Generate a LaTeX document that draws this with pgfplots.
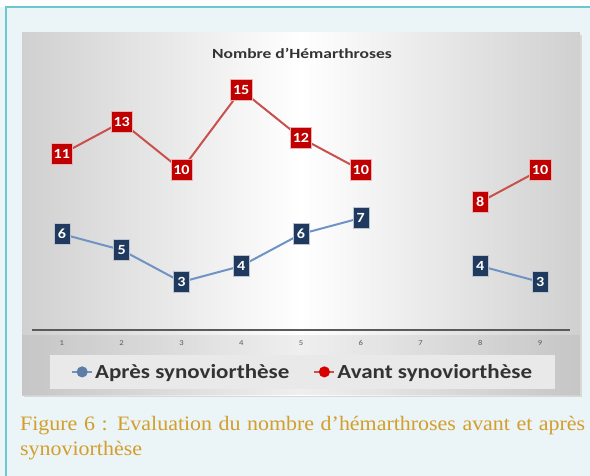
\documentclass[border=0pt]{standalone}
\usepackage{pgfplots}
\pgfplotsset{compat=1.18}
\usepackage{fontspec}
\setmainfont{Liberation Serif}
\newfontfamily\calfont{Carlito}
\newfontfamily\calwide[FakeStretch=1.15]{Carlito}
\newfontfamily\calwider[FakeStretch=1.25]{Carlito}
\newfontfamily\capfont[FakeStretch=1.07]{Liberation Serif}
\definecolor{bgc}{HTML}{EBF4F6}
\definecolor{tealb}{HTML}{6CC8CC}
\definecolor{edgegray}{HTML}{D0D0D0}
\definecolor{legbox}{HTML}{E9E9E9}
\definecolor{capc}{HTML}{D39E2A}
\definecolor{redline}{HTML}{C8504D}
\definecolor{blueline}{HTML}{6E93C4}
\definecolor{redbox}{HTML}{C00000}
\definecolor{bluebox}{HTML}{1F3A5E}
\definecolor{axgray}{HTML}{5A5A5A}
\definecolor{txtgray}{HTML}{333333}
\begin{document}
\begin{tikzpicture}
\useasboundingbox (0pt,0pt) rectangle (590pt,-476pt);
\fill[bgc] (0pt,0pt) rectangle (590pt,-476pt);
\fill[white] (0pt,0pt) rectangle (590pt,-7pt);
\draw[tealb, line width=1.2pt] (6pt,-476pt) -- (6pt,-7pt) -- (590pt,-7pt);
\fill[gray!30] (24pt,-35pt) rectangle (582pt,-397pt);
\shade[left color=edgegray, right color=edgegray, middle color=white] (22pt,-33pt) rectangle (580pt,-395pt);
\fill[gray, opacity=0.12] (22pt,-335pt) rectangle (580pt,-395pt);
\fill[legbox] (50pt,-355pt) rectangle (555pt,-389pt);
\node[font=\calwider\bfseries\fontsize{14}{16}\selectfont, text=txtgray] at (302pt,-53pt) {Nombre d’Hémarthroses};
\begin{axis}[
  at={(32pt,-330pt)}, anchor=south west,
  scale only axis, width=538pt, height=272pt,
  xmin=0.5, xmax=9.5, ymin=0, ymax=17,
  axis y line=none,
  axis x line=bottom,
  x axis line style={-, draw=axgray, line width=2pt},
  xtick={1,2,3,4,5,6,7,8,9},
  major tick length=0pt,
  /pgf/number format/assume math mode=true,
  xticklabel style={font=\calwide\fontsize{7.5}{8}\selectfont, text=axgray, yshift=-7pt},
  unbounded coords=jump,
  clip=false,
  legend columns=2,
  legend style={at={(0.503,-0.154)}, anchor=center, draw=none, fill=none,
    font=\calwide\bfseries\fontsize{20}{22}\selectfont, text=txtgray,
    /tikz/every even column/.append style={column sep=22pt}},
  legend image code/.code={\draw[#1, mark repeat=2, mark phase=2] plot coordinates {(0pt,0pt) (10pt,0pt) (20pt,0pt)};},
]
\addplot[blueline, line width=2pt, mark=*, mark size=4.5pt, mark options={fill=blueline!85!black, draw=blueline!85!black},
  nodes near coords,
  every node near coord/.append style={anchor=center, fill=bluebox, text=white, font=\calwide\bfseries\fontsize{14}{15}\selectfont, inner sep=2.5pt, minimum height=21pt, minimum width=16pt, draw=white!70!bluebox, line width=0.4pt}]
coordinates {(1,6) (2,5) (3,3) (4,4) (5,6) (6,7) (7,nan) (8,4) (9,3)};
\addlegendentry{Après synoviorthèse}
\addplot[redline, line width=2pt, mark=*, mark size=4.5pt, mark options={fill=red!85!black, draw=red!85!black},
  nodes near coords,
  every node near coord/.append style={anchor=center, fill=redbox, text=white, font=\calwide\bfseries\fontsize{14}{15}\selectfont, inner sep=2.5pt, minimum height=21pt, minimum width=16pt, draw=white!70!redbox, line width=0.4pt}]
coordinates {(1,11) (2,13) (3,10) (4,15) (5,12) (6,10) (7,nan) (8,8) (9,10)};
\addlegendentry{Avant synoviorthèse}
\end{axis}
\node[anchor=north west, text width=565pt, align=justify, inner sep=0pt, text=capc, font=\capfont\fontsize{20.5}{25}\selectfont] at (20pt,-416pt) {Figure 6 : Evaluation du nombre d’hémarthroses avant et après synoviorthèse};
\end{tikzpicture}
\end{document}
